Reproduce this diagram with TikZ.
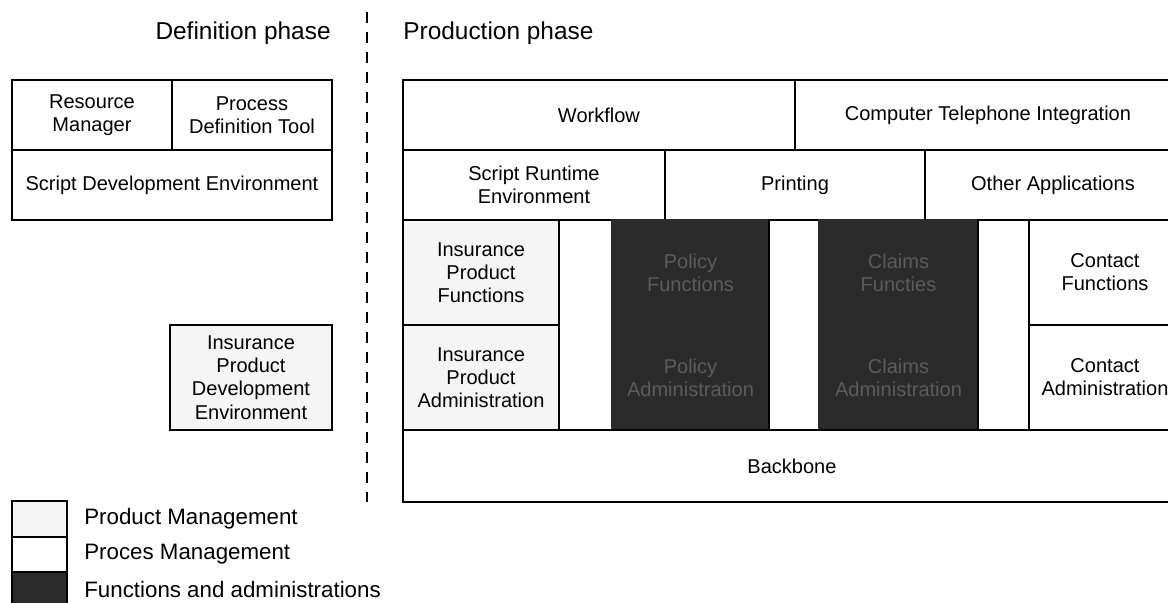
\documentclass[tikz,border=0pt]{standalone}
\usepackage{fontspec}
\setmainfont{Liberation Sans}
\usetikzlibrary{positioning}

\definecolor{prodfill}{gray}{0.96}
\definecolor{funcfill}{gray}{0.17}
\definecolor{functext}{gray}{0.36}

\tikzset{
  cell/.style={draw, line width=0.8pt, inner sep=0pt, outer sep=0pt, anchor=north west,
    align=center, font=\fontsize{11.4}{13.2}\selectfont},
  prodcell/.style={cell, fill=prodfill},
  funccell/.style={cell, draw=funcfill, fill=funcfill, text=functext},
  phase/.style={font=\fontsize{13.9}{16}\selectfont, inner sep=0pt},
  legendtext/.style={font=\fontsize{12.7}{15}\selectfont, inner sep=0pt, anchor=west}
}

\begin{document}
\begin{tikzpicture}[x=0.02cm,y=-0.02cm]

\clip (0,0) rectangle (1168,602);


%phase titles and the dashed divider
\node[phase, anchor=east] (defphase) at (331,33) {Definition phase};
\node[phase, anchor=west] (prodphase) at (403,33) {Production phase};
\coordinate (divtop) at (367,12);
\coordinate (divbot) at (367,502);
\draw[line width=1.1pt, dash pattern=on 0.22cm off 0.18cm] (divtop) -- (divbot);


%definition phase tools
\node[cell, minimum width=3.2cm, minimum height=1.4cm] (resmgr) at (12,80) {Resource\\Manager};
\node[cell, minimum width=3.2cm, minimum height=1.4cm] (procdef) at (172,80) {Process\\Definition Tool};
\node[cell, minimum width=6.4cm, minimum height=1.4cm] (scriptdev) at (12,150) {Script Development Environment};

\node[prodcell, minimum width=3.24cm, minimum height=2.1cm] (ipde) at (170,325) {Insurance\\Product\\Development\\Environment};


%production phase: top two layers
\node[cell, minimum width=7.84cm, minimum height=1.4cm] (workflow) at (403,80) {Workflow};
\node[cell, minimum width=7.72cm, minimum height=1.4cm] (cti) at (795,80) {Computer Telephone Integration};
\node[cell, minimum width=5.24cm, minimum height=1.4cm] (scriptrun) at (403,150) {Script Runtime\\Environment};
\node[cell, minimum width=5.2cm, minimum height=1.4cm] (printing) at (665,150) {Printing};
\node[cell, minimum width=5.12cm, minimum height=1.4cm] (otherapps) at (925,150) {Other Applications};


%functions and administrations
\node[prodcell, minimum width=3.12cm, minimum height=2.1cm] (insfunc) at (403,220) {Insurance\\Product\\Functions};
\node[prodcell, minimum width=3.12cm, minimum height=2.1cm] (insadm) at (403,325) {Insurance\\Product\\Administration};
\node[cell, minimum width=1.06cm, minimum height=4.2cm] (gapa) at (559,220) {};

\node[funccell, minimum width=3.14cm, minimum height=2.1cm] (polfunc) at (612,220) {Policy\\Functions};
\node[funccell, minimum width=3.14cm, minimum height=2.1cm] (poladm) at (612,325) {Policy\\Administration};
\node[cell, minimum width=1.0cm, minimum height=4.2cm] (gapb) at (769,220) {};

\node[funccell, minimum width=3.18cm, minimum height=2.1cm] (clmfunc) at (819,220) {Claims\\Functies};
\node[funccell, minimum width=3.18cm, minimum height=2.1cm] (clmadm) at (819,325) {Claims\\Administration};
\node[cell, minimum width=1.02cm, minimum height=4.2cm] (gapc) at (978,220) {};

\node[cell, minimum width=3.04cm, minimum height=2.1cm] (confunc) at (1029,220) {Contact\\Functions};
\node[cell, minimum width=3.04cm, minimum height=2.1cm] (conadm) at (1029,325) {Contact\\Administration};

\node[cell, minimum width=15.56cm, minimum height=1.44cm] (backbone) at (403,430) {Backbone};


%legend
\node[prodcell, minimum width=1.1cm, minimum height=0.72cm] (lgprod) at (12,501) {};
\node[cell, minimum width=1.1cm, minimum height=0.7cm] (lgproc) at (12,537) {};
\node[cell, fill=funcfill, minimum width=1.1cm, minimum height=0.8cm] (lgfunc) at (12,572) {};
\node[legendtext, right=0.34cm of lgprod.east] {Product Management};
\node[legendtext, right=0.34cm of lgproc.east] {Proces Management};
\node[legendtext, right=0.34cm of lgfunc.east, yshift=0.05cm] {Functions and administrations};


\end{tikzpicture}
\end{document}
